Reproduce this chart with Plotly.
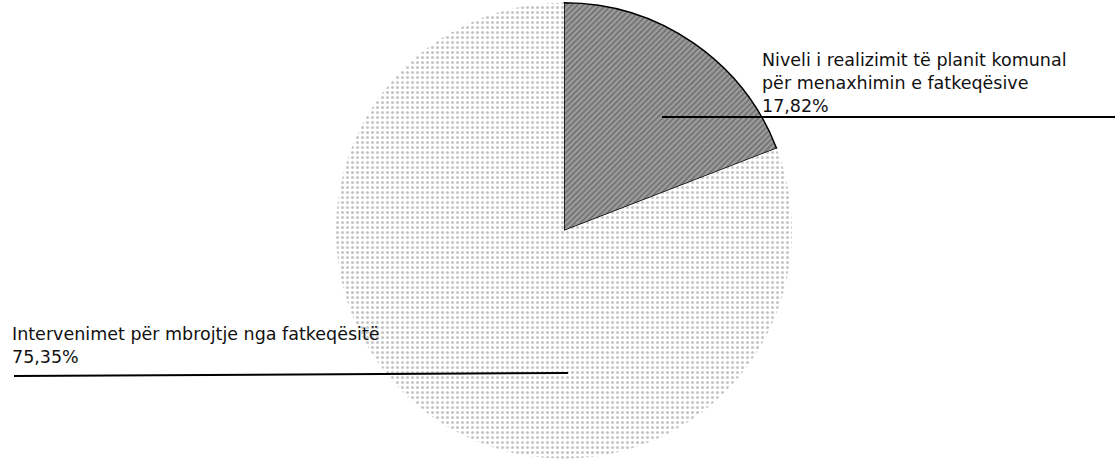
import plotly.graph_objects as go

W, H = 1115, 459

labels = ["Niveli i realizimit të planit komunal<br>për menaxhimin e fatkeqësive",
          "Intervenimet për mbrojtje nga fatkeqësitë"]
values = [17.82, 75.35]
fill_bg = ["#9c9c9c", "#ffffff"]
fill_fg = ["#333333", "#8e8e8e"]
shapes_pat = ["/", "."]
line_colors = ["#000000", "rgba(0,0,0,0)"]

def fmt(v):
    return f"{v:.2f}".replace(".", ",") + "%"

fig = go.Figure(go.Pie(
    labels=labels, values=values, sort=False, direction="clockwise", rotation=0,
    textinfo="none", hoverinfo="label+value",
    marker=dict(colors=fill_bg,
                line=dict(color=line_colors, width=1.5),
                pattern=dict(shape=shapes_pat, fgcolor=fill_fg, bgcolor=fill_bg,
                             size=[4, 5], solidity=[0.35, 0.3], fillmode="overlay")),
    domain=dict(x=[(564 - 228) / W, (564 + 228) / W], y=[0, 0.995]),
    showlegend=False,
))

font = dict(family="DejaVu Sans", size=17.5, color="#111111")

# label positions (px from left/top)
ann_pos = [(760, 83), (10, 345)]
for (px, py), lab, v in zip(ann_pos, labels, values):
    fig.add_annotation(x=px / W, y=1 - py / H, xref="paper", yref="paper",
                       xanchor="left", yanchor="middle", align="left",
                       text=f"{lab}<br>{fmt(v)}", showarrow=False, font=font)

leaders = [((662, 117), (1115, 117)), ((14, 376), (568, 373))]
for (x0, y0), (x1, y1) in leaders:
    fig.add_shape(type="line", xref="paper", yref="paper",
                  x0=x0 / W, y0=1 - y0 / H, x1=x1 / W, y1=1 - y1 / H,
                  line=dict(color="#000000", width=2))

fig.update_layout(width=W, height=H, margin=dict(l=0, r=0, t=0, b=0),
                  paper_bgcolor="white", plot_bgcolor="white")
fig.write_html("out.html", config={"displayModeBar": False},
               post_script="document.body.style.margin='0';document.body.style.overflow='hidden';")
